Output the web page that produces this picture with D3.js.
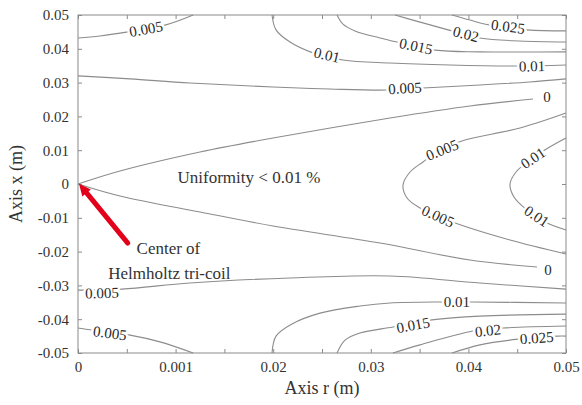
<!DOCTYPE html>
<html><head><meta charset="utf-8">
<script src="https://cdn.jsdelivr.net/npm/d3@7"></script>
<style>body{margin:0;background:#fff}svg{display:block}</style>
</head><body>
<svg id="chart" width="582" height="405"></svg>
<script>
// ---- Data (r, x) in metres ----
const rTicks = [0, 0.01, 0.02, 0.03, 0.04, 0.05];
const rTickLabels = ["0", "0.001", "0.02", "0.03", "0.04", "0.05"];
const rMinorTicks = [0.005, 0.015, 0.025, 0.035, 0.045];
const xTicks = [0.05, 0.04, 0.03, 0.02, 0.01, 0, -0.01, -0.02, -0.03, -0.04, -0.05];
const xTickLabels = ["0.05", "0.04", "0.03", "0.02", "0.01", "0", "-0.01", "-0.02", "-0.03", "-0.04", "-0.05"];

const cTopLeft005 = [[0,0.0432],[0.00225,0.0438],[0.00512,0.0450],[0.00891,0.0470],[0.0118,0.0500]];
const cUpper005 = [[0,0.0320],[0.00533,0.0311],[0.01148,0.0299],[0.01998,0.0287],[0.02582,0.0281],[0.03166,0.0278],[0.03535,0.0284],[0.04119,0.0293],[0.04631,0.0302],[0.05,0.0311]];
const cTop010 = [[0.01988,0.0500],[0.02029,0.0456],[0.02172,0.0420],[0.02408,0.0388],[0.02715,0.0367],[0.03197,0.0358],[0.03811,0.0352],[0.04508,0.0349],[0.05,0.0352]];
const cTop015 = [[0.02654,0.0500],[0.02715,0.0473],[0.02838,0.0453],[0.03094,0.0432],[0.03268,0.0420],[0.03658,0.0396],[0.04119,0.0391],[0.05,0.0391]];
const cTop020 = [[0.03248,0.0500],[0.03504,0.0479],[0.03832,0.0453],[0.04119,0.0432],[0.04529,0.0423],[0.05,0.0420]];
const cTop025 = [[0.03832,0.0500],[0.04016,0.0485],[0.04221,0.0470],[0.04600,0.0456],[0.05,0.0453]];
const cUpperZero = [[0,0],[0.0043,0.00385],[0.0125,0.00947],[0.01998,0.01361],[0.03197,0.01953],[0.04016,0.02308],[0.04662,0.02515]];
const cLowerZero = [[0,0],[0.0043,-0.00355],[0.0125,-0.00828],[0.01998,-0.01243],[0.03094,-0.01746],[0.04016,-0.02249],[0.04703,-0.02456]];
const cRight005 = [[0.05,0.0210],[0.04529,0.01657],[0.03934,0.01272],[0.03709,0.01006],[0.03535,0.00651],[0.03402,0.00355],[0.0333,-0.0003],[0.03371,-0.00414],[0.03504,-0.0071],[0.03709,-0.00976],[0.03863,-0.01154],[0.04426,-0.01657],[0.05,-0.0207]];
const cRight010 = [[0.05,0.01361],[0.04816,0.01065],[0.04631,0.0071],[0.04488,0.00355],[0.04426,0],[0.04467,-0.00385],[0.04600,-0.00769],[0.04785,-0.01124],[0.05,-0.01361]];
const cLower005 = [[0,-0.0314],[0.00451,-0.0311],[0.01148,-0.0293],[0.02172,-0.0278],[0.03197,-0.0272],[0.04119,-0.0293],[0.05,-0.0311]];
const cBot010 = [[0.01988,-0.0500],[0.02029,-0.0450],[0.02193,-0.0414],[0.0248,-0.0382],[0.02889,-0.0361],[0.03197,-0.0352],[0.0374,-0.0349],[0.04037,-0.0349],[0.05,-0.0352]];
const cBot015 = [[0.02654,-0.0500],[0.02736,-0.0462],[0.02889,-0.0441],[0.03227,-0.0423],[0.03627,-0.0402],[0.04119,-0.0391],[0.05,-0.0385]];
const cBot020 = [[0.03227,-0.0500],[0.03504,-0.0476],[0.04047,-0.0435],[0.04355,-0.0426],[0.05,-0.0420]];
const cBot025 = [[0.03832,-0.0500],[0.04119,-0.0476],[0.04508,-0.0459],[0.04918,-0.0450],[0.05,-0.0450]];
const cBotLeft005 = [[0,-0.0426],[0.00143,-0.0432],[0.00533,-0.0447],[0.0084,-0.0467],[0.0118,-0.0500]];

const contours = {
  topLeft005: cTopLeft005, upper005: cUpper005, top010: cTop010, top015: cTop015,
  top020: cTop020, top025: cTop025, upperZero: cUpperZero, lowerZero: cLowerZero,
  right005: cRight005, right010: cRight010, lower005: cLower005, bot010: cBot010,
  bot015: cBot015, bot020: cBot020, bot025: cBot025, botLeft005: cBotLeft005
};

// label text, r, x, contour it sits on
const contourLabels = [
  ["0.005", 0.00697, 0.0459, "topLeft005"],
  ["0.01", 0.02551, 0.0382, "top010"],
  ["0.015", 0.03463, 0.0408, "top015"],
  ["0.02", 0.03975, 0.0444, "top020"],
  ["0.025", 0.04406, 0.0466, "top025"],
  ["0.01", 0.04652, 0.0349, "top010"],
  ["0.005", 0.0335, 0.0284, "upper005"],
  ["0", 0.04806, 0.0257, "upperZero"],
  ["0.005", 0.0373, 0.0101, "right005"],
  ["0.01", 0.04662, 0.0077, "right010"],
  ["0.005", 0.03689, -0.0095, "right005"],
  ["0.01", 0.0470, -0.0095, "right010"],
  ["0", 0.04816, -0.0254, "lowerZero"],
  ["0.005", 0.00246, -0.0322, "lower005"],
  ["0.01", 0.03883, -0.0349, "bot010"],
  ["0.015", 0.03433, -0.0417, "bot015"],
  ["0.02", 0.0420, -0.0433, "bot020"],
  ["0.025", 0.0470, -0.0455, "bot025"],
  ["0.005", 0.00328, -0.0441, "botLeft005"]
];

const arrowFrom = [0.0051, -0.0175];
const arrowTo = [0.0001, 0.0001];
const noteUniformity = ["Uniformity < 0.01 %", 0.0102, 0.0003];
const noteCenter = [["Center of", 0.0060, -0.0208], ["Helmholtz tri-coil", 0.0031, -0.0280]];

// ---- Drawing ----
const svg = d3.select("#chart");
const font = "'Liberation Serif','Times New Roman',serif";
const xS = d3.scaleLinear().domain([0, 0.05]).range([78, 566]);
const yS = d3.scaleLinear().domain([-0.05, 0.05]).range([353, 15]);
const axisCol = "#8a8a8a", textCol = "#333";

// frame
svg.append("rect").attr("x", xS(0)).attr("y", yS(0.05))
  .attr("width", xS(0.05) - xS(0)).attr("height", yS(-0.05) - yS(0.05))
  .attr("fill", "none").attr("stroke", axisCol).attr("stroke-width", 1);

function styleAxis(g) {
  g.select(".domain").remove();
  g.selectAll(".tick line").attr("stroke", axisCol);
  g.selectAll(".tick text").attr("fill", textCol).attr("font-family", font).attr("font-size", 15);
}
const allR = rTicks.concat(rMinorTicks).sort((a, b) => a - b);
svg.append("g").attr("transform", `translate(0,${yS(-0.05)})`)
  .call(d3.axisBottom(xS).tickValues(allR).tickSize(-4).tickPadding(8)
    .tickFormat(d => { const i = rTicks.findIndex(t => Math.abs(t - d) < 1e-9); return i >= 0 ? rTickLabels[i] : ""; }))
  .call(styleAxis);
svg.append("g").attr("transform", `translate(0,${yS(0.05)})`)
  .call(d3.axisTop(xS).tickValues(allR).tickSize(-4).tickFormat(""))
  .call(styleAxis);
svg.append("g").attr("transform", `translate(${xS(0)},0)`)
  .call(d3.axisLeft(yS).tickValues(xTicks).tickSize(-4).tickPadding(9)
    .tickFormat((d, i) => xTickLabels[i]))
  .call(styleAxis);
svg.append("g").attr("transform", `translate(${xS(0.05)},0)`)
  .call(d3.axisRight(yS).tickValues(xTicks).tickSize(-4).tickFormat(""))
  .call(styleAxis);

// axis titles
svg.append("text").attr("x", (xS(0) + xS(0.05)) / 2).attr("y", 394)
  .attr("text-anchor", "middle").attr("font-family", font).attr("font-size", 18)
  .attr("fill", textCol).text("Axis r (m)");
svg.append("text").attr("transform", `translate(22,${yS(0)}) rotate(-90)`)
  .attr("text-anchor", "middle").attr("font-family", font).attr("font-size", 18)
  .attr("fill", textCol).text("Axis x (m)");

// contour lines
const lineC = d3.line().x(d => xS(d[0])).y(d => yS(d[1])).curve(d3.curveCatmullRom);
Object.values(contours).forEach(pts => {
  svg.append("path").attr("d", lineC(pts))
    .attr("fill", "none").attr("stroke", "#8c8c8c").attr("stroke-width", 1.1);
});

// contour labels
function angleAt(pts, px, py) {
  let best = Infinity, ang = 0;
  for (let i = 0; i < pts.length - 1; i++) {
    const x1 = xS(pts[i][0]), y1 = yS(pts[i][1]), x2 = xS(pts[i + 1][0]), y2 = yS(pts[i + 1][1]);
    const dx = x2 - x1, dy = y2 - y1, L = dx * dx + dy * dy;
    let t = L ? ((px - x1) * dx + (py - y1) * dy) / L : 0;
    t = Math.max(0, Math.min(1, t));
    const qx = x1 + t * dx, qy = y1 + t * dy, d = Math.hypot(px - qx, py - qy);
    if (d < best) { best = d; ang = Math.atan2(dy, dx) * 180 / Math.PI; }
  }
  if (ang > 90) ang -= 180;
  if (ang < -90) ang += 180;
  return ang;
}
contourLabels.forEach(([txt, r, x, key]) => {
  const px = xS(r), py = yS(x);
  const a = txt === "0" ? 0 : angleAt(contours[key], px, py);
  svg.append("text").attr("transform", `translate(${px},${py}) rotate(${a})`)
    .attr("text-anchor", "middle").attr("dy", "0.35em")
    .attr("font-family", font).attr("font-size", 15).attr("fill", "#2a2a2a")
    .attr("stroke", "#fff").attr("stroke-width", 5).attr("paint-order", "stroke")
    .attr("stroke-linejoin", "round").text(txt);
});

// annotations
svg.append("text").attr("x", xS(noteUniformity[1])).attr("y", yS(noteUniformity[2]))
  .attr("font-family", font).attr("font-size", 17).attr("fill", textCol).text(noteUniformity[0]);
noteCenter.forEach(([t, r, x]) => {
  svg.append("text").attr("x", xS(r)).attr("y", yS(x))
    .attr("font-family", font).attr("font-size", 17).attr("fill", textCol).text(t);
});

// red arrow
const ax1 = xS(arrowFrom[0]), ay1 = yS(arrowFrom[1]), ax2 = xS(arrowTo[0]), ay2 = yS(arrowTo[1]);
const ang = Math.atan2(ay2 - ay1, ax2 - ax1);
const headL = 12, headW = 5.5;
const bx = ax2 - headL * Math.cos(ang), by = ay2 - headL * Math.sin(ang);
svg.append("line").attr("x1", ax1).attr("y1", ay1).attr("x2", bx).attr("y2", by)
  .attr("stroke", "#e3001b").attr("stroke-width", 5).attr("stroke-linecap", "round");
svg.append("path")
  .attr("d", `M${ax2},${ay2} L${bx + headW * Math.sin(ang)},${by - headW * Math.cos(ang)} L${bx - headW * Math.sin(ang)},${by + headW * Math.cos(ang)} Z`)
  .attr("fill", "#e3001b");
</script>
</body></html>
